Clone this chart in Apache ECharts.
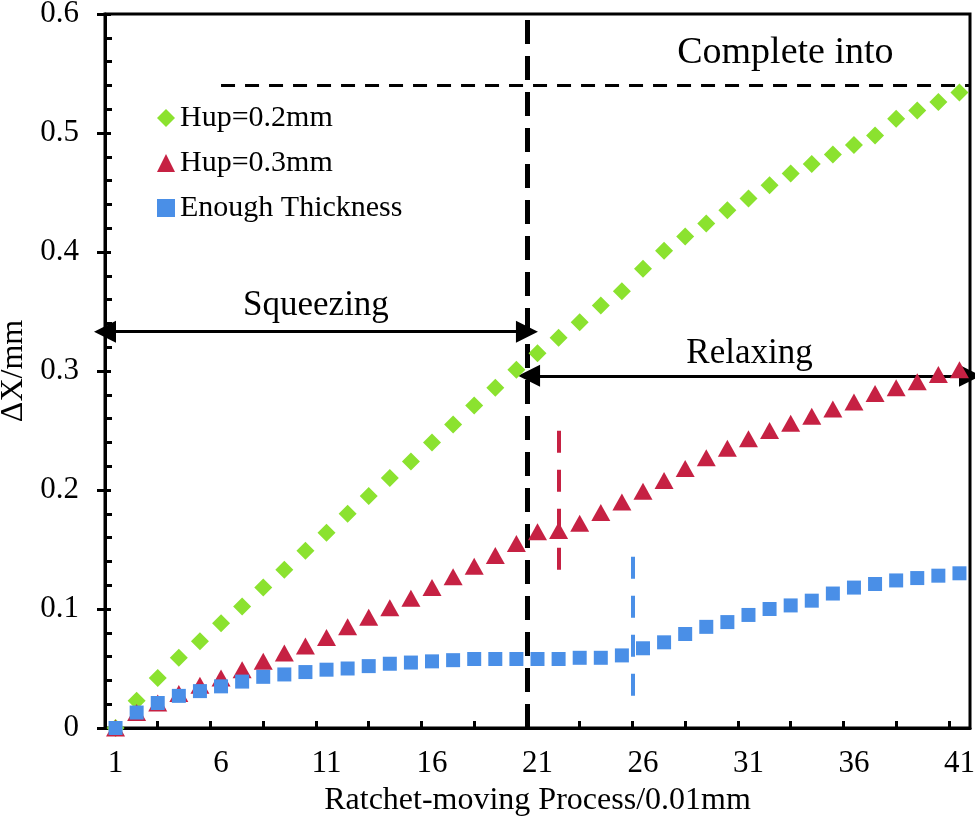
<!DOCTYPE html>
<html>
<head>
<meta charset="utf-8">
<script src="https://cdn.jsdelivr.net/npm/echarts@6/dist/echarts.min.js"></script>
<style>
  html, body { margin: 0; padding: 0; background: #fff; }
  #chart { width: 975px; height: 820px; }
</style>
</head>
<body>
<div id="chart"></div>
<script>
// ratchet steps (x) and the three measured curves
const steps = [1,2,3,4,5,6,7,8,9,10,11,12,13,14,15,16,17,18,19,20,21,22,23,24,25,26,27,28,29,30,31,32,33,34,35,36,37,38,39,40,41];
const hup02 = [0,0.023,0.042,0.059,0.073,0.088,0.102,0.118,0.133,0.149,0.164,0.180,0.195,0.210,0.224,0.240,0.255,0.271,0.286,0.301,0.315,0.328,0.341,0.355,0.367,0.386,0.401,0.413,0.424,0.435,0.445,0.456,0.466,0.474,0.482,0.490,0.498,0.512,0.519,0.526,0.534];
const hup03 = [0,0.013,0.021,0.029,0.036,0.042,0.049,0.056,0.063,0.069,0.076,0.085,0.093,0.101,0.109,0.118,0.127,0.136,0.145,0.155,0.165,0.166,0.172,0.181,0.190,0.199,0.208,0.218,0.227,0.235,0.243,0.250,0.256,0.262,0.268,0.274,0.281,0.286,0.291,0.297,0.301];
const enough = [0,0.013,0.021,0.027,0.031,0.035,0.039,0.043,0.045,0.047,0.049,0.050,0.052,0.054,0.055,0.056,0.057,0.058,0.058,0.058,0.058,0.058,0.059,0.059,0.061,0.067,0.072,0.079,0.085,0.089,0.095,0.100,0.103,0.107,0.113,0.118,0.121,0.124,0.126,0.128,0.130];

const xLabels = [1,6,11,16,21,26,31,36,41];
const xTicks = [3,5.5,8,10.5,13,15.5,18,20.5,23,25.5,28,30.5,33,35.5,38,40.5];

// annotation positions (data units)
const phaseSplit = 20.5;
const completeLine = [6, 41.5, 0.54];
const completeText = [32.75, 0.567];
const squeezeArrow = [0.5, 20.5, 0.333];
const relaxArrow = [20.6, 41.5, 0.296];
const redMark = [22, 0.133, 0.255];
const blueMark = [25.5, 0.027, 0.148];

const font = '"Liberation Serif", "Times New Roman", serif';
const pts = ys => steps.map((x, i) => [x, ys[i]]);

const chart = echarts.init(document.getElementById('chart'));
chart.setOption({
  animation: false,
  textStyle: { fontFamily: font },
  grid: {
    left: 105, right: 5, top: 14, bottom: 92,
    containLabel: false, outerBoundsMode: 'none',
    show: true, borderColor: '#000', borderWidth: 3, backgroundColor: 'transparent'
  },
  legend: {
    orient: 'vertical',
    left: 152, top: 98,
    itemGap: 15,
    itemWidth: 18, itemHeight: 18,
    textStyle: { fontFamily: font, fontSize: 30, color: '#000' },
    data: ['Hup=0.2mm', 'Hup=0.3mm', 'Enough Thickness']
  },
  xAxis: {
    type: 'value', min: 0.5, max: 41.5,
    name: 'Ratchet-moving Process/0.01mm',
    nameLocation: 'middle', nameGap: 57,
    nameTextStyle: { fontFamily: font, fontSize: 32, color: '#000' },
    axisLine: { lineStyle: { color: '#000', width: 3 } },
    axisTick: { inside: true, length: 7, lineStyle: { color: '#000', width: 3 }, customValues: xTicks },
    axisLabel: { fontFamily: font, fontSize: 31, color: '#000', margin: 20, customValues: xLabels },
    splitLine: { show: false }
  },
  yAxis: [{
    type: 'value', min: 0, max: 0.6, interval: 0.1,
    name: 'ΔX/mm',
    nameLocation: 'middle', nameGap: 68,
    nameTextStyle: { fontFamily: font, fontSize: 32, color: '#000' },
    axisLine: { lineStyle: { color: '#000', width: 3 } },
    axisTick: { length: 8, lineStyle: { color: '#000', width: 3 } },
    axisLabel: { fontFamily: font, fontSize: 31, color: '#000', margin: 26, formatter: v => v === 0 ? '0' : v.toFixed(1) },
    splitLine: { show: false }
  }, {
    type: 'value', min: 0, max: 0.6, interval: 0.1, position: 'left',
    axisLine: { show: false },
    axisTick: { inside: true, length: 6, lineStyle: { color: '#000', width: 3 } },
    minorTick: { show: true, splitNumber: 5, length: 7, lineStyle: { color: '#000', width: 3 } },
    axisLabel: { show: false },
    splitLine: { show: false }
  }],
  series: [{
    name: 'Hup=0.2mm', type: 'scatter',
    symbol: 'diamond', symbolSize: 18,
    itemStyle: { color: '#8BE22F', opacity: 1 },
    data: pts(hup02),
    z: 4,
    markLine: {
      silent: true, animation: false, symbol: 'none', z: 2,
      data: [
        [{ coord: [phaseSplit, 0], lineStyle: { color: '#000', width: 5, type: [24, 12] } },
         { coord: [phaseSplit, 0.6] }],
        [{ coord: [completeLine[0], completeLine[2]], lineStyle: { color: '#000', width: 3, type: [14, 10] } },
         { coord: [completeLine[1], completeLine[2]] }],
        [{ coord: [redMark[0], redMark[1]], lineStyle: { color: '#C62143', width: 4, type: [22, 17] } },
         { coord: [redMark[0], redMark[2]] }],
        [{ coord: [blueMark[0], blueMark[1]], lineStyle: { color: '#4A8FE7', width: 4, type: [22, 17] } },
         { coord: [blueMark[0], blueMark[2]] }],
        [{ coord: [squeezeArrow[0], squeezeArrow[2]], symbol: 'triangle', symbolSize: [22, 22],
           lineStyle: { color: '#000', width: 3, type: 'solid' },
           label: { show: true, position: 'middle', formatter: 'Squeezing', fontFamily: font, fontSize: 35, color: '#000', distance: 8 } },
         { coord: [squeezeArrow[1], squeezeArrow[2]], symbol: 'triangle', symbolSize: [22, 22] }],
        [{ coord: [relaxArrow[0], relaxArrow[2]], symbol: 'triangle', symbolSize: [22, 22],
           lineStyle: { color: '#000', width: 3, type: 'solid' },
           label: { show: true, position: 'middle', formatter: 'Relaxing', fontFamily: font, fontSize: 35, color: '#000', distance: 4 } },
         { coord: [relaxArrow[1], relaxArrow[2]], symbol: 'triangle', symbolSize: [22, 22] }]
      ],
      label: { show: false },
      itemStyle: { color: '#000' }
    },
    markPoint: {
      silent: true, animation: false,
      symbol: 'circle', symbolSize: 1,
      itemStyle: { color: 'rgba(0,0,0,0)' },
      label: { show: true, position: 'inside', fontFamily: font, fontSize: 38, color: '#000', formatter: 'Complete into' },
      data: [{ coord: completeText }]
    }
  }, {
    name: 'Hup=0.3mm', type: 'scatter',
    symbol: 'triangle', symbolSize: [19, 17],
    itemStyle: { color: '#C62143', opacity: 1 },
    data: pts(hup03),
    z: 4
  }, {
    name: 'Enough Thickness', type: 'scatter',
    symbol: 'rect', symbolSize: 14,
    itemStyle: { color: '#4A8FE7', opacity: 1 },
    data: pts(enough),
    z: 4
  }]
});
</script>
</body>
</html>
